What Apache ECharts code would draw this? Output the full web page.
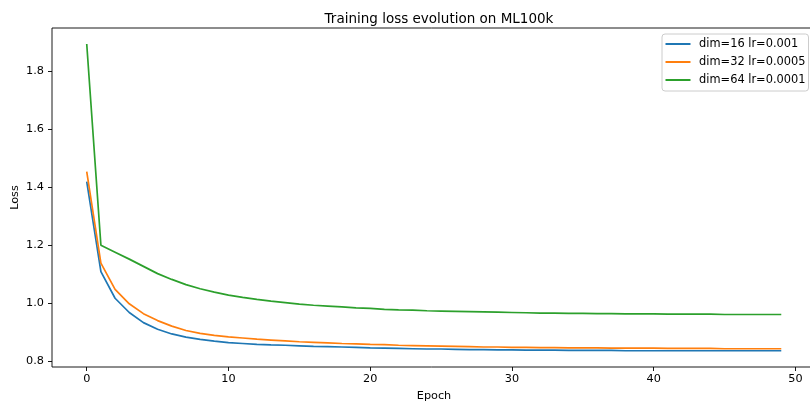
<!DOCTYPE html>
<html>
<head>
<meta charset="utf-8">
<script src="https://cdn.jsdelivr.net/npm/echarts@6/dist/echarts.min.js"></script>
<style>
  html, body { margin: 0; padding: 0; background: #fff; }
  #chart { width: 810px; height: 401px; }
</style>
</head>
<body>
<div id="chart"></div>
<script>
// epochs on the x axis
var epochs = [0, 1, 2, 3, 4, 5, 6, 7, 8, 9, 10, 11, 12, 13, 14, 15, 16, 17, 18, 19,
  20, 21, 22, 23, 24, 25, 26, 27, 28, 29, 30, 31, 32, 33, 34, 35, 36, 37, 38, 39,
  40, 41, 42, 43, 44, 45, 46, 47, 48, 49]

// loss per epoch
var lossDim16 = [1.419, 1.109, 1.017, 0.968, 0.933, 0.910, 0.894, 0.883, 0.875, 0.869,
  0.864, 0.861, 0.858, 0.856, 0.855, 0.853, 0.851, 0.850, 0.849, 0.848,
  0.846, 0.845, 0.844, 0.843, 0.842, 0.842, 0.841, 0.840, 0.840, 0.839,
  0.839, 0.838, 0.838, 0.838, 0.837, 0.837, 0.837, 0.837, 0.836, 0.836,
  0.836, 0.836, 0.836, 0.836, 0.836, 0.836, 0.836, 0.836, 0.836, 0.836]
var lossDim32 = [1.454, 1.138, 1.048, 0.998, 0.964, 0.940, 0.921, 0.906, 0.896, 0.889,
  0.884, 0.880, 0.876, 0.873, 0.870, 0.867, 0.865, 0.863, 0.861, 0.860,
  0.858, 0.857, 0.855, 0.854, 0.853, 0.852, 0.851, 0.850, 0.849, 0.849,
  0.848, 0.848, 0.847, 0.847, 0.846, 0.846, 0.846, 0.845, 0.845, 0.845,
  0.845, 0.844, 0.844, 0.844, 0.844, 0.843, 0.843, 0.843, 0.843, 0.843]
var lossDim64 = [1.894, 1.200, 1.176, 1.152, 1.127, 1.102, 1.082, 1.064, 1.050, 1.038,
  1.028, 1.020, 1.013, 1.007, 1.002, 0.997, 0.993, 0.990, 0.987, 0.984,
  0.982, 0.979, 0.977, 0.976, 0.974, 0.973, 0.972, 0.971, 0.970, 0.969,
  0.968, 0.967, 0.966, 0.966, 0.965, 0.965, 0.964, 0.964, 0.963, 0.963,
  0.963, 0.962, 0.962, 0.962, 0.962, 0.961, 0.961, 0.961, 0.961, 0.961]

var seriesNames = ['dim=16 lr=0.001', 'dim=32 lr=0.0005', 'dim=64 lr=0.0001']
var xTicks = [0, 10, 20, 30, 40, 50]
var yTicks = [0.8, 1.0, 1.2, 1.4, 1.6, 1.8]

var FONT = 'DejaVu Sans'
var colors = ['#1f77b4', '#ff7f0e', '#2ca02c']

function pairs(ys) {
  return epochs.map(function (e, i) { return [e, ys[i]] })
}

var chart = echarts.init(document.getElementById('chart'), null, { renderer: 'canvas' })

var series = [lossDim16, lossDim32, lossDim64].map(function (ys, i) {
  return {
    name: seriesNames[i],
    type: 'line',
    data: pairs(ys),
    symbol: 'none',
    color: colors[i],
    lineStyle: { width: 1.7, color: colors[i] }
  }
})

var option = {
  animation: false,
  backgroundColor: '#fff',
  title: {
    text: 'Training loss evolution on ML100k',
    left: 434,
    textAlign: 'center',
    top: 7,
    textStyle: { fontFamily: FONT, fontSize: 13.5, fontWeight: 'normal', color: '#000' }
  },
  legend: {
    orient: 'vertical',
    left: 662,
    top: 34,
    padding: [3, 3, 4, 3.5],
    itemGap: 4,
    itemWidth: 25,
    itemHeight: 2,
    icon: 'rect',
    borderColor: '#cccccc',
    borderWidth: 1,
    borderRadius: 3,
    backgroundColor: 'rgba(255,255,255,0.8)',
    textStyle: { fontFamily: FONT, fontSize: 11.4, color: '#000', lineHeight: 14, padding: [0, 0, 0, 3.6] },
    data: seriesNames
  },
  grid: {
    left: 52,
    top: 28,
    width: 764,
    height: 339,
    outerBoundsMode: 'none',
    containLabel: false,
    show: true,
    borderColor: '#000',
    borderWidth: 0.9,
    backgroundColor: 'transparent'
  },
  xAxis: {
    type: 'value',
    min: -2.45,
    max: 51.45,
    name: 'Epoch',
    nameLocation: 'middle',
    nameGap: 24,
    nameMoveOverlap: false,
    nameTextStyle: { fontFamily: FONT, fontSize: 11.25, color: '#000' },
    axisLine: { show: false, onZero: false },
    splitLine: { show: false },
    axisTick: { show: true, length: 4, customValues: xTicks, lineStyle: { color: '#000', width: 0.9 } },
    axisLabel: {
      customValues: xTicks,
      fontFamily: FONT, fontSize: 11.25, color: '#000', margin: 7
    }
  },
  yAxis: {
    type: 'value',
    min: 0.780,
    max: 1.949,
    name: 'Loss',
    nameLocation: 'middle',
    nameGap: 31,
    nameMoveOverlap: false,
    nameTextStyle: { fontFamily: FONT, fontSize: 11.25, color: '#000' },
    axisLine: { show: false, onZero: false },
    splitLine: { show: false },
    axisTick: { show: true, length: 4, customValues: yTicks, lineStyle: { color: '#000', width: 0.9 } },
    axisLabel: {
      customValues: yTicks,
      fontFamily: FONT, fontSize: 11.25, color: '#000', margin: 8,
      formatter: function (v) { return v.toFixed(1) }
    }
  },
  series: series
}

chart.setOption(option)
</script>
</body>
</html>
